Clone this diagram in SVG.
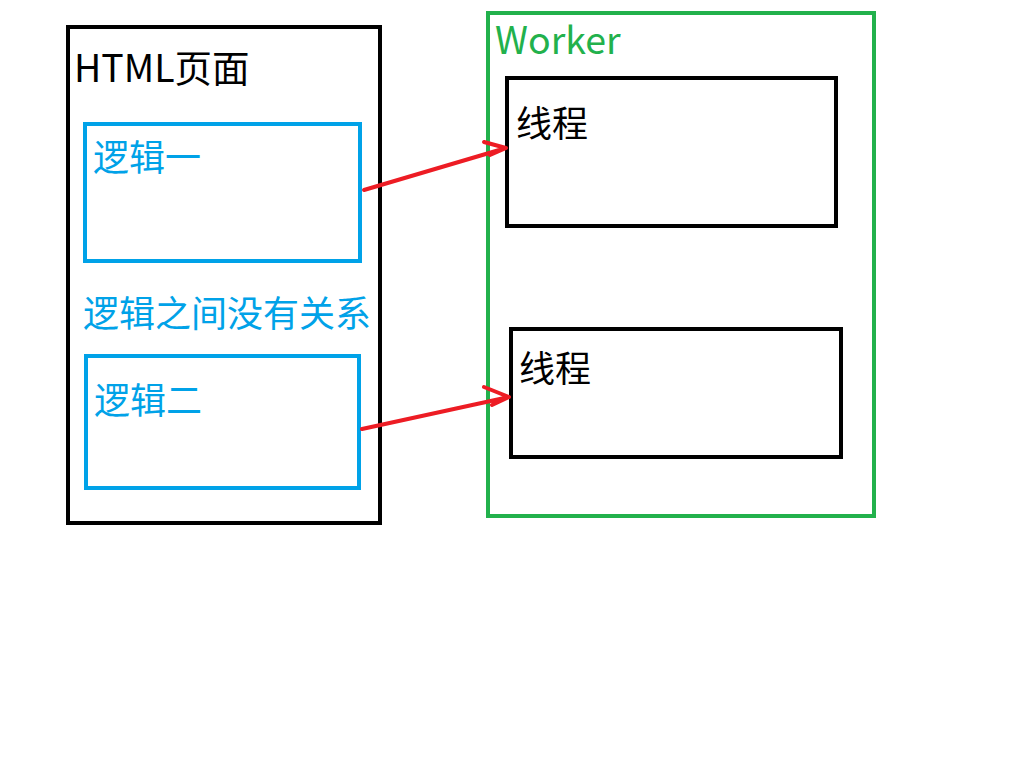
<svg xmlns="http://www.w3.org/2000/svg" width="1024" height="768" viewBox="0 0 1024 768">
<style>
text{font-family:"Noto Sans CJK SC","Microsoft YaHei",sans-serif;font-size:36px}
.lat{font-size:37.5px}
.blk{fill:none;stroke:#000;stroke-width:4}
.blu{fill:none;stroke:#00a2e8;stroke-width:4}
.grn{fill:none;stroke:#22b14c;stroke-width:4}
.arr{fill:none;stroke:#ed1c24;stroke-width:4;stroke-linecap:round;stroke-linejoin:round}
</style>
<rect width="1024" height="768" fill="#fff"/>
<g id="html">
<rect class="blk" x="68" y="27" width="312" height="496"/>
<text class="lat" x="74" y="82" fill="#000">HTML页面</text>
</g>
<g id="logic1">
<rect class="blu" x="85" y="124" width="275" height="137"/>
<text x="93" y="171" fill="#00a2e8">逻辑一</text>
</g>
<text id="note" x="83" y="327" fill="#00a2e8">逻辑之间没有关系</text>
<g id="logic2">
<rect class="blu" x="86" y="356" width="273" height="132"/>
<text x="94" y="414" fill="#00a2e8">逻辑二</text>
</g>
<g id="worker">
<rect class="grn" x="488" y="13" width="386" height="503"/>
<text class="lat" x="495" y="54" fill="#22b14c">Worker</text>
</g>
<g id="thread1">
<rect class="blk" x="507" y="78" width="329" height="148"/>
<text x="516" y="137" fill="#000">线程</text>
</g>
<g id="thread2">
<rect class="blk" x="511" y="329" width="330" height="128"/>
<text x="519" y="382" fill="#000">线程</text>
</g>
<g id="connectors">
<path class="arr" d="M364 190 L506 148 M484 142 L506 148 L490 155"/>
<path class="arr" d="M362 429 L509 397 M484 387 L509 397 L492 405"/>
</g>
</svg>
